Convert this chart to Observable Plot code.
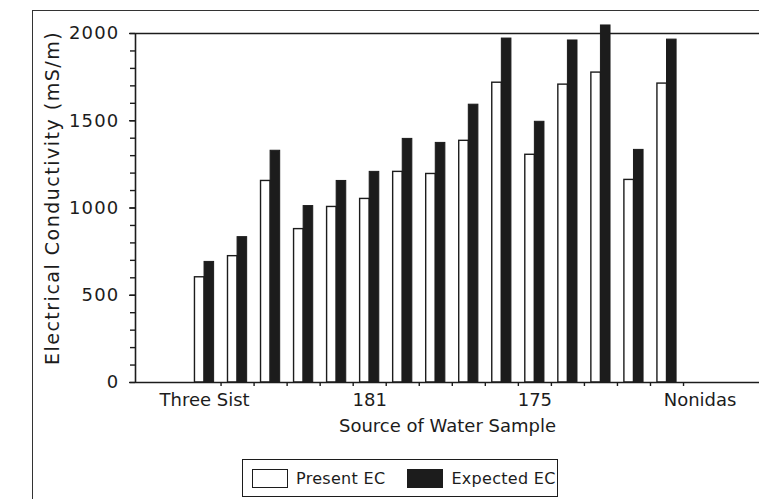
<!DOCTYPE html>
<html><head><meta charset="utf-8">
<script src="https://cdn.jsdelivr.net/npm/d3@7"></script>
<script src="https://cdn.jsdelivr.net/npm/@observablehq/plot@0.6"></script>
<style>
body{margin:0;background:#fff;width:759px;height:499px;overflow:hidden;position:relative;font-family:"DejaVu Sans",sans-serif;color:#1c1c1c}
#frame{position:absolute;left:32px;top:10px;width:800px;height:600px;border-left:1.5px solid #333;border-top:1.5px solid #333}
#chart{position:absolute;left:0;top:0}
#legend{position:absolute;left:242px;top:459px;width:314px;height:36px;border:1.5px solid #1c1c1c;display:flex;align-items:center;font-size:16px;letter-spacing:0.3px}
.sw{width:36px;height:19px;border:1.5px solid #1c1c1c;box-sizing:border-box;margin-left:9px;margin-right:8px}
#chart [aria-label="y-axis label"] text{font-size:19px;letter-spacing:1.5px}
#chart [aria-label="y-axis tick label"] text{letter-spacing:1.2px}
</style></head><body>
<div id="frame"></div><div id="chart"></div><div id="legend"></div>
<script>
const sampleIndex = [1,2,3,4,5,6,7,8,9,10,11,12,13,14,15];
const presentEC  = [603, 724, 1155, 879, 1006, 1052, 1207, 1195, 1385, 1718, 1305, 1707, 1776, 1161, 1713];
const expectedEC = [691, 833, 1328, 1011, 1155, 1207, 1396, 1373, 1592, 1971, 1494, 1960, 2046, 1333, 1965];
const xTickLabels = ["Three Sist", "181", "175", "Nonidas"];
const xTickLabelAt = [1, 6, 11, 16];
const yMajorTicks = [0, 500, 1000, 1500, 2000];
const yMinorTicks = d3.range(0, 2001, 100);
const groupBoundaries = sampleIndex.map(i => i + 0.5);
const seriesNames = ["Present EC", "Expected EC"];
const xTitle = "Source of Water Sample";
const yTitle = "Electrical Conductivity (mS/m)";

const xDomain = [-1.09, 17.8];
const halfW = 0.29;

const data = sampleIndex.map((i, k) => ({i, present: presentEC[k], expected: expectedEC[k]}));
const ink = "#1c1c1c";

const chart = Plot.plot({
  width: 759, height: 450,
  marginLeft: 135, marginRight: 0, marginTop: 33, marginBottom: 68,
  style: {fontFamily: "DejaVu Sans, sans-serif", fontSize: "18px", color: ink, background: "transparent", overflow: "visible"},
  x: {type: "linear", domain: xDomain},
  y: {domain: [0, 2000]},
  marks: [
    Plot.rectY(data, {x1: d => d.i - halfW, x2: d => d.i, y: "present", fill: "white", stroke: ink, strokeWidth: 1.4}),
    Plot.rectY(data, {x1: d => d.i, x2: d => d.i + halfW, y: "expected", fill: ink, stroke: ink, strokeWidth: 1}),
    Plot.ruleY([0, 2000], {stroke: ink, strokeWidth: 1.6}),
    Plot.ruleX([xDomain[0]], {stroke: ink, strokeWidth: 1.6}),
    Plot.axisY({ticks: yMinorTicks, tickSize: 5, tickFormat: () => "", label: null, strokeWidth: 1.4}),
    Plot.axisY({ticks: yMajorTicks, tickSize: 6, tickPadding: 10, tickFormat: d => String(d), label: yTitle, labelAnchor: "center", labelOffset: 90, labelArrow: "none", strokeWidth: 1.4}),
    Plot.axisX({ticks: groupBoundaries, tickSize: 4, tickFormat: () => "", label: null, strokeWidth: 1.4}),
    Plot.axisX({ticks: xTickLabelAt, tickSize: 0, tickPadding: 11, tickFormat: (d) => xTickLabels[xTickLabelAt.indexOf(d)], label: xTitle, labelAnchor: "center", labelOffset: 49, labelArrow: "none"})
  ]
});
document.getElementById("chart").appendChild(chart);
d3.select(chart).select('[aria-label="y-axis label"] text').attr("dx", 10);

const legend = document.getElementById("legend");
seriesNames.forEach((name, k) => {
  const sw = document.createElement("div");
  sw.className = "sw";
  sw.style.background = k === 0 ? "#fff" : ink;
  if (k === 1) sw.style.marginLeft = "22px";
  const t = document.createElement("span");
  t.textContent = name;
  legend.appendChild(sw);
  legend.appendChild(t);
});
</script>
</body></html>
